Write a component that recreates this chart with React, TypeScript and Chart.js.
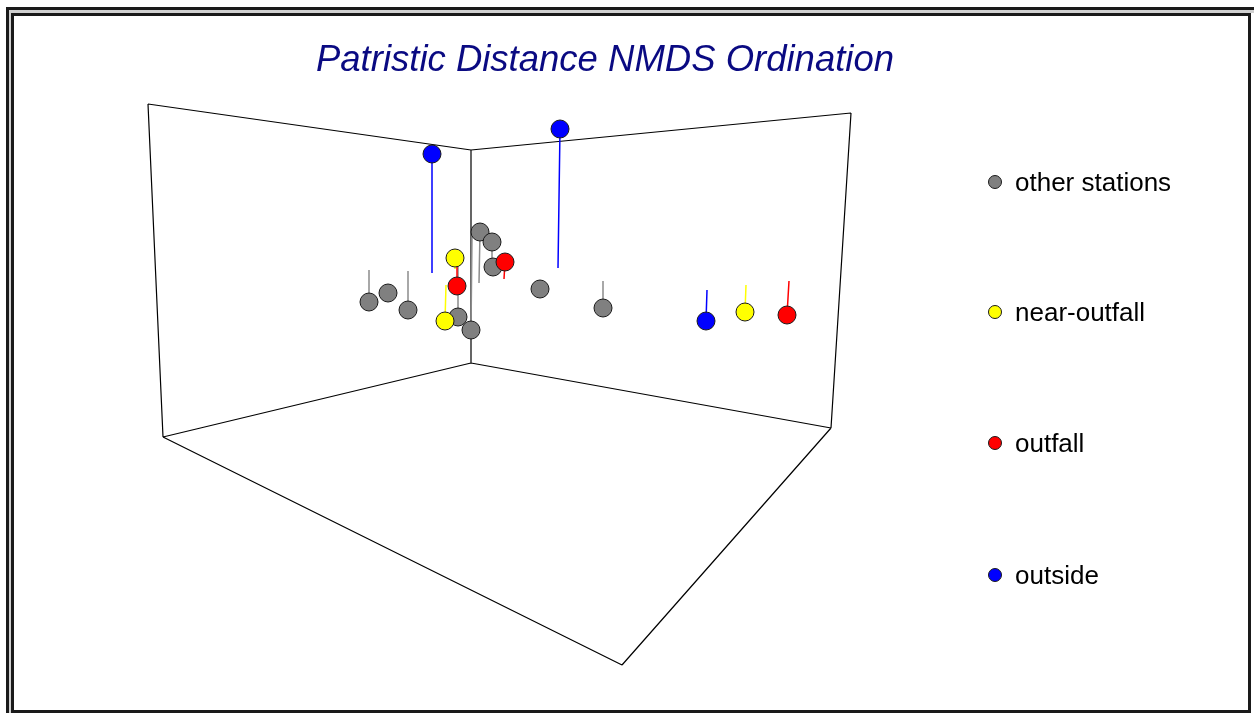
import React, { useEffect, useRef } from "react";
import { Chart, registerables } from "chart.js";

Chart.register(...registerables);

// Projected (screen-plane) coordinates of the 3D NMDS ordination, in view units.
// Each point: projected x, projected y, and the projected end of its drop line.
const TITLE = "Patristic Distance NMDS Ordination";

const seriesNames = ["other stations", "near-outfall", "outfall", "outside"];
const seriesColors = ["#808080", "#ffff00", "#ff0000", "#0000ff"];
const stemColors = ["#8c8c8c", "#ffff00", "#ff0000", "#0000ff"];

const otherX = [369, 388, 408, 458, 471, 480, 492, 493, 540, 603];
const otherY = [302, 293, 310, 317, 330, 232, 242, 267, 289, 308];
const otherStemX = [369, 388, 408, 458, 472, 479, 492, 493, 540, 603];
const otherStemY = [270, 293, 271, 262, 236, 283, 262, 267, 280, 281];

const nearX = [455, 445, 745];
const nearY = [258, 321, 312];
const nearStemX = [455, 446, 746];
const nearStemY = [269, 285, 285];

const outfallX = [457, 505, 787];
const outfallY = [286, 262, 315];
const outfallStemX = [457, 504, 789];
const outfallStemY = [266, 279, 281];

const outsideX = [432, 560, 706];
const outsideY = [154, 129, 321];
const outsideStemX = [432, 558, 707];
const outsideStemY = [273, 268, 290];

// Projected corners of the bounding box and its visible edges
const boxCornerX = [148, 471, 851, 163, 471, 831, 622];
const boxCornerY = [104, 150, 113, 437, 363, 428, 665];
const boxEdges: [number, number][] = [
  [0, 1], [1, 2], [1, 4], [0, 3], [2, 5], [4, 3], [4, 5], [3, 6], [6, 5],
];

const groupsX = [otherX, nearX, outfallX, outsideX];
const groupsY = [otherY, nearY, outfallY, outsideY];
const groupsStemX = [otherStemX, nearStemX, outfallStemX, outsideStemX];
const groupsStemY = [otherStemY, nearStemY, outfallStemY, outsideStemY];

const GAP = { x: NaN, y: NaN };

export default function App() {
  const ref = useRef<HTMLCanvasElement | null>(null);

  useEffect(() => {
    document.body.style.margin = "0";
    const canvas = ref.current;
    if (!canvas) return;

    const boxData: any[] = [];
    boxEdges.forEach(([a, b]) => {
      boxData.push({ x: boxCornerX[a], y: boxCornerY[a] });
      boxData.push({ x: boxCornerX[b], y: boxCornerY[b] });
      boxData.push(GAP);
    });

    const datasets: any[] = [];
    datasets.push({
      label: "box",
      data: boxData,
      showLine: true,
      spanGaps: false,
      borderColor: "#000000",
      borderWidth: 1.2,
      pointRadius: 0,
      order: 10,
    });

    seriesNames.forEach((name, gi) => {
      const stems: any[] = [];
      groupsX[gi].forEach((x, i) => {
        stems.push({ x, y: groupsY[gi][i] });
        stems.push({ x: groupsStemX[gi][i], y: groupsStemY[gi][i] });
        stems.push(GAP);
      });
      datasets.push({
        label: name + " stems",
        data: stems,
        showLine: true,
        spanGaps: false,
        borderColor: stemColors[gi],
        borderWidth: 1.5,
        pointRadius: 0,
        order: 9 - gi,
      });
    });

    seriesNames.forEach((name, gi) => {
      datasets.push({
        label: name,
        data: groupsX[gi].map((x, i) => ({ x, y: groupsY[gi][i] })),
        showLine: false,
        pointRadius: 9,
        pointBackgroundColor: seriesColors[gi],
        pointBorderColor: "#1a1a1a",
        pointBorderWidth: 1,
        order: 4 - gi,
      });
    });

    const legendY = [182, 312, 443, 575];

    const overlay = {
      id: "overlay",
      afterDraw(chart: any) {
        const ctx = chart.ctx;
        ctx.save();
        ctx.fillStyle = "#0a0a82";
        ctx.font = "italic 36.5px 'Liberation Sans', Arial, sans-serif";
        ctx.textAlign = "center";
        ctx.textBaseline = "alphabetic";
        ctx.fillText(TITLE, 605, 71);

        ctx.font = "26px 'Liberation Sans', Arial, sans-serif";
        ctx.textAlign = "left";
        seriesNames.forEach((name, i) => {
          const y = legendY[i];
          ctx.beginPath();
          ctx.arc(995, y, 6.5, 0, Math.PI * 2);
          ctx.fillStyle = seriesColors[i];
          ctx.fill();
          ctx.lineWidth = 1;
          ctx.strokeStyle = "#1a1a1a";
          ctx.stroke();
          ctx.fillStyle = "#000000";
          ctx.fillText(name, 1015, y + 9);
        });
        ctx.restore();
      },
    };

    const chart = new Chart(canvas, {
      type: "scatter",
      data: { datasets },
      options: {
        animation: false,
        responsive: false,
        devicePixelRatio: 1,
        layout: { padding: 0, autoPadding: false },
        plugins: {
          legend: { display: false },
          tooltip: { enabled: false },
          title: { display: false },
        },
        scales: {
          x: { type: "linear", min: 0, max: 1254, display: false },
          y: { type: "linear", min: 0, max: 713, reverse: true, display: false },
        },
      },
      plugins: [overlay],
    });
    return () => chart.destroy();
  }, []);

  return (
    <div style={{ position: "fixed", left: 0, top: 0, width: 1254, height: 713, background: "#fff" }}>
      <canvas ref={ref} width={1254} height={713} style={{ position: "absolute", left: 0, top: 0 }} />
      <div style={{ position: "absolute", left: 6, top: 7, right: 0, height: 3, background: "#1a1a1a" }} />
      <div style={{ position: "absolute", left: 6, top: 7, width: 3, bottom: 0, background: "#1a1a1a" }} />
      <div style={{ position: "absolute", left: 9, top: 10, right: 0, height: 3, background: "#d0d0d0" }} />
      <div style={{ position: "absolute", left: 9, top: 10, width: 2, bottom: 0, background: "#d0d0d0" }} />
      <div
        style={{
          position: "absolute",
          left: 11,
          top: 13,
          width: 1240,
          height: 700,
          boxSizing: "border-box",
          border: "3px solid #1a1a1a",
          pointerEvents: "none",
        }}
      />
    </div>
  );
}
